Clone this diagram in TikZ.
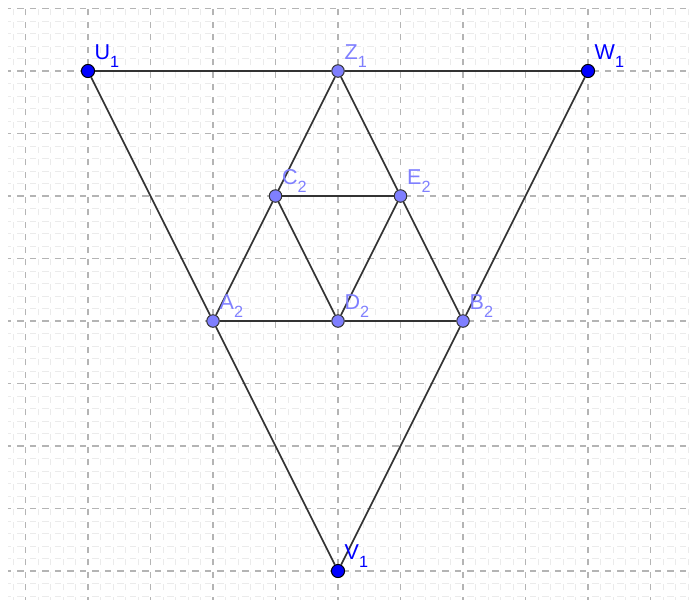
\documentclass[tikz,border=0pt]{standalone}
\usepackage{fontspec}
\setmainfont{Liberation Sans}
\usepackage{tikz}
\usetikzlibrary{positioning}
\usepackage{xcolor}
\definecolor{ptdark}{HTML}{0000FF}
\definecolor{ptlight}{HTML}{7F7FFF}
\definecolor{gridmaj}{HTML}{B4B4B4}
\definecolor{gridmin}{HTML}{EBEBEB}
\newcommand{\pname}[2]{#1\raisebox{-3.4pt}{\fontsize{7.4}{8}\selectfont #2}}

\begin{document}
\begin{tikzpicture}[
    bpt/.style={circle, draw=black, line width=0.45pt, fill=ptdark, inner sep=0pt, minimum size=0.21cm},
    lpt/.style={circle, draw=black!80, line width=0.45pt, fill=ptlight, inner sep=0pt, minimum size=0.2cm},
    blbl/.style={anchor=base west, inner sep=0pt, text=ptdark, font=\fontsize{9.8}{11}\selectfont},
    llbl/.style={anchor=base west, inner sep=0pt, text=ptlight, font=\fontsize{9.8}{11}\selectfont},
    seg/.style={draw=black!80, line width=0.75pt}
]
\useasboundingbox (-1.408,-8.528) rectangle (9.696,1.136);
% Grid
\draw[gridmin, line width=0.4pt, dash pattern=on 0.1cm off 0.1cm, dash phase=0.05cm]
    (-1.28,-8.46) grid[step=0.2] (9.63,1.0);
\draw[gridmaj, line width=0.5pt, dash pattern=on 0.1cm off 0.1cm, dash phase=0.05cm]
    (-1.28,-8.46) grid[step=1] (9.63,1.0);
% Points
\node[bpt] (U1) at (0,0) {};
\node[bpt] (W1) at (8,0) {};
\node[bpt] (V1) at (4,-8) {};
\node[lpt] (Z1) at (4,0) {};
\node[lpt] (C2) at (3,-2) {};
\node[lpt] (E2) at (5,-2) {};
\node[lpt] (A2) at (2,-4) {};
\node[lpt] (D2) at (4,-4) {};
\node[lpt] (B2) at (6,-4) {};
% Segments
\draw[seg] (U1) -- (Z1);
\draw[seg] (Z1) -- (W1);
\draw[seg] (U1) -- (A2);
\draw[seg] (A2) -- (V1);
\draw[seg] (W1) -- (B2);
\draw[seg] (B2) -- (V1);
\draw[seg] (Z1) -- (C2);
\draw[seg] (C2) -- (A2);
\draw[seg] (Z1) -- (E2);
\draw[seg] (E2) -- (B2);
\draw[seg] (C2) -- (E2);
\draw[seg] (C2) -- (D2);
\draw[seg] (E2) -- (D2);
\draw[seg] (A2) -- (D2);
\draw[seg] (D2) -- (B2);
% Labels
\node[blbl] (U1t) at ([shift={(0.1,0.18)}]U1.center) {\pname{U}{1}};
\node[blbl] (W1t) at ([shift={(0.1,0.18)}]W1.center) {\pname{W}{1}};
\node[blbl] (V1t) at ([shift={(0.1,0.18)}]V1.center) {\pname{V}{1}};
\node[llbl] (Z1t) at ([shift={(0.1,0.18)}]Z1.center) {\pname{Z}{1}};
\node[llbl] (C2t) at ([shift={(0.1,0.18)}]C2.center) {\pname{C}{2}};
\node[llbl] (E2t) at ([shift={(0.1,0.18)}]E2.center) {\pname{E}{2}};
\node[llbl] (A2t) at ([shift={(0.1,0.18)}]A2.center) {\pname{A}{2}};
\node[llbl] (D2t) at ([shift={(0.1,0.18)}]D2.center) {\pname{D}{2}};
\node[llbl] (B2t) at ([shift={(0.1,0.18)}]B2.center) {\pname{B}{2}};
\end{tikzpicture}
\end{document}
